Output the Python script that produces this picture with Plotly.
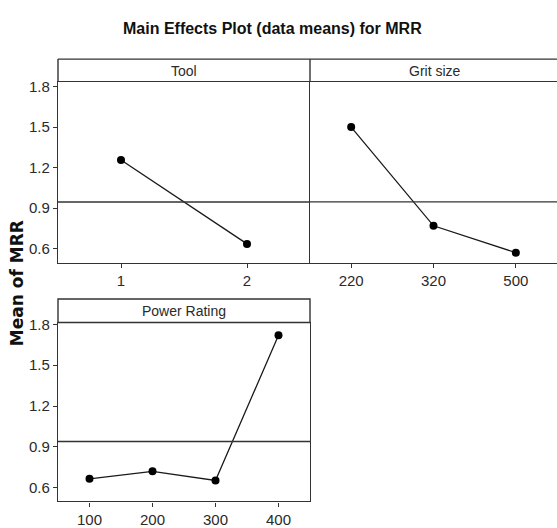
import plotly.graph_objects as go

W, H = 557, 528

tool_levels = ["1", "2"]
tool_means = [1.257, 0.636]
grit_levels = ["220", "320", "500"]
grit_means = [1.500, 0.770, 0.571]
power_levels = ["100", "200", "300", "400"]
power_means = [0.665, 0.720, 0.653, 1.720]
y_ticks = [0.6, 0.9, 1.2, 1.5, 1.8]
y_tick_text = ["0.6", "0.9", "1.2", "1.5", "1.8"]

NARROW = "Liberation Sans, Arial, sans-serif"
TICKFONT = dict(family=NARROW, size=15, color="#2a2a2a")
LINE = "#333333"

def px(x):
    return x / W

def py(y):
    return 1 - y / H

fig = go.Figure()

panels = [
    ("x", "y", tool_levels, tool_means),
    ("x2", "y2", grit_levels, grit_means),
    ("x3", "y3", power_levels, power_means),
]
for xa, ya, lv, mv in panels:
    fig.add_trace(go.Scatter(x=lv, y=mv, xaxis=xa, yaxis=ya, mode="lines+markers",
                             line=dict(color="#1a1a1a", width=1.3),
                             marker=dict(color="black", size=8),
                             showlegend=False, hoverinfo="skip"))
    mean = sum(mv) / len(mv)
    fig.add_shape(type="line", xref=xa + " domain", yref=ya, x0=0, x1=1, y0=mean, y1=mean,
                  line=dict(color=LINE, width=1.4))

ax_common = dict(showline=True, linecolor=LINE, linewidth=1.4, ticks="outside", ticklen=4,
                 tickcolor=LINE, tickwidth=1.2, showgrid=False, zeroline=False, tickfont=TICKFONT,
                 fixedrange=True)

top_y = [py(260), py(76)]
bot_y = [py(503), py(321)]

fig.update_layout(
    width=W, height=H, margin=dict(l=0, r=0, t=0, b=0),
    paper_bgcolor="white", plot_bgcolor="white",
    xaxis=dict(domain=[px(58), px(310)], type="category", range=[-0.5, 1.5], anchor="y", mirror=True, **ax_common),
    yaxis=dict(domain=top_y, range=[0.498, 1.836], tickvals=y_ticks, ticktext=y_tick_text, anchor="x", **ax_common),
    xaxis2=dict(domain=[px(310), 1.0], type="category", range=[-0.5, 2.5], anchor="y2", mirror=True, **ax_common),
    yaxis2=dict(domain=top_y, range=[0.498, 1.836], tickvals=y_ticks, showticklabels=False, anchor="x2",
                **{**ax_common, "ticks": ""}),
    xaxis3=dict(domain=[px(58), px(310)], type="category", range=[-0.5, 3.5], anchor="y3", mirror=True, **ax_common),
    yaxis3=dict(domain=bot_y, range=[0.499, 1.814], tickvals=y_ticks, ticktext=y_tick_text, anchor="x3", mirror=True, **ax_common),
)

# strip headers: top lines and side lines
fig.add_shape(type="line", xref="paper", yref="paper", x0=px(58), x1=1.0, y0=py(53), y1=py(53),
              line=dict(color=LINE, width=1.4))
for x in (58, 310):
    fig.add_shape(type="line", xref="paper", yref="paper", x0=px(x), x1=px(x), y0=py(76), y1=py(53),
                  line=dict(color=LINE, width=1.4))
fig.add_shape(type="rect", xref="paper", yref="paper", x0=px(58), x1=px(310), y0=py(321), y1=py(297),
              line=dict(color=LINE, width=1.4), fillcolor="rgba(0,0,0,0)")

strip_labels = [(184, 65, "Tool"), (435, 65, "Grit size"), (184, 309, "Power Rating")]
for cx, cy, label in strip_labels:
    fig.add_annotation(xref="paper", yref="paper", x=px(cx), y=py(cy), text=label, showarrow=False,
                       font=dict(family=NARROW, size=14, color="#2a2a2a"),
                       xanchor="center", yanchor="middle")

fig.add_annotation(xref="paper", yref="paper", x=px(272), y=py(22),
                   text="<b>Main Effects Plot (data means) for MRR</b>", showarrow=False,
                   font=dict(family=NARROW, size=16, color="#111111"),
                   xanchor="center", yanchor="middle")

fig.add_annotation(xref="paper", yref="paper", x=px(17), y=py(281),
                   text="<b>Mean of MRR</b>", showarrow=False, textangle=-90,
                   font=dict(family="DejaVu Sans, sans-serif", size=17, color="#111111"),
                   xanchor="center", yanchor="middle")

fig.write_html("out.html")
